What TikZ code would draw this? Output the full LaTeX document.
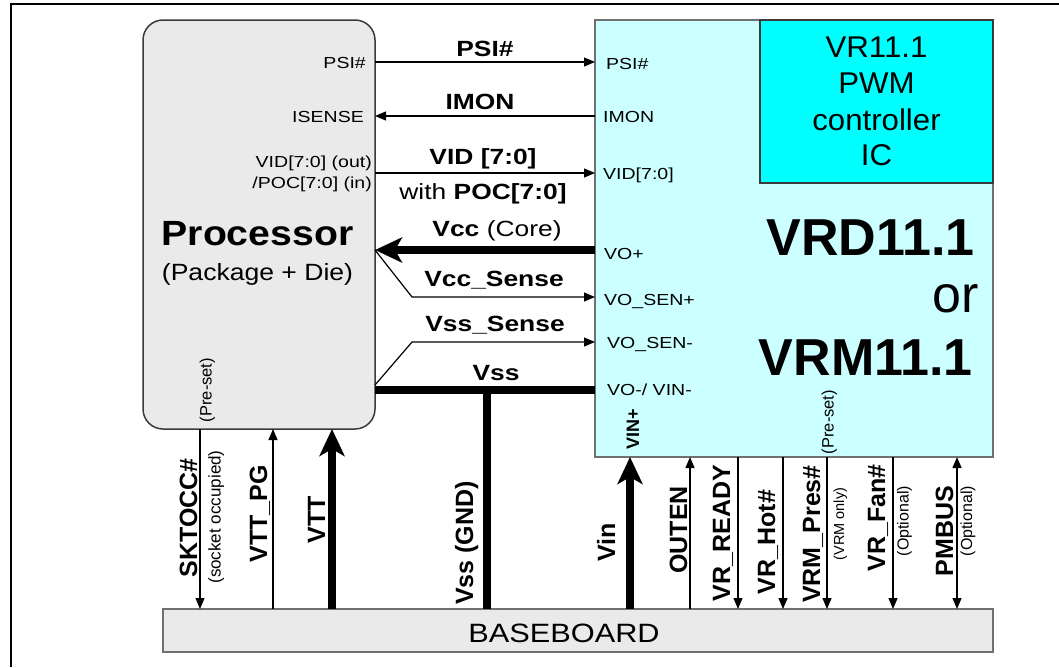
\documentclass[tikz,border=0pt]{standalone}
\usepackage{fontspec}
\setmainfont{Liberation Sans}
\usetikzlibrary{arrows.meta,calc}
\newcommand\wx[2]{\scalebox{#1}[1]{#2}}
\definecolor{procfill}{HTML}{EAEAEA}
\definecolor{vrdfill}{HTML}{CCFFFF}
\definecolor{pwmfill}{HTML}{00FFFF}
\definecolor{darkedge}{HTML}{3A3A3A}
\definecolor{grayedge}{HTML}{707070}
\begin{document}
\begin{tikzpicture}[x=1pt,y=-1pt,
  box/.style={line width=1.5pt, inner sep=0, outer sep=0},
  sl/.style={font=\fontsize{16}{18}\selectfont, inner sep=0},
  bl/.style={font=\bfseries\fontsize{22}{24}\selectfont, inner sep=0, anchor=base},
  vb/.style={font=\bfseries\fontsize{25}{27}\selectfont, inner sep=0, rotate=90, anchor=base},
  vs/.style={inner sep=0, rotate=90, anchor=base},
  thinw/.style={line width=1.2pt},
  tarr/.style={thinw, -{Triangle[length=11pt,width=9pt]}},
  thickw/.style={line width=8pt},
  barr/.style={thickw, -{Stealth[length=27pt,width=25pt,inset=7pt]}},
]
\useasboundingbox (0,0) rectangle (1059,667);
\draw[line width=2.5pt] (11,667) -- (11,4) -- (1059,4);

% boxes
\node[box, draw=darkedge, fill=procfill, rounded corners=20pt, minimum width=232pt, minimum height=409pt] (proc) at (259,224.5) {};
\node[box, draw=grayedge, fill=vrdfill, minimum width=398pt, minimum height=437pt] (vrd) at (794,238.5) {};
\node[box, draw=darkedge, fill=pwmfill, minimum width=233pt, minimum height=163pt] (pwm) at (876.5,101.5) {};
\node[box, draw=grayedge, fill=procfill, minimum width=830pt, minimum height=43pt] (base) at (578,630.5) {};

% coordinates
\coordinate (yPSI) at (0,62);
\coordinate (yIMON) at (0,116);
\coordinate (yVID) at (0,173);
\coordinate (yVcc) at (0,250);
\coordinate (yVccS) at (0,297);
\coordinate (yVssS0) at (0,385);
\coordinate (yVssS) at (0,342);
\coordinate (yVss) at (0,390);
\coordinate (kink) at (412,0);
\coordinate (xSK) at (200,0);
\coordinate (xPG) at (273,0);
\coordinate (xVTT) at (332,0);
\coordinate (xGND) at (487,0);
\coordinate (xVin) at (630,0);
\coordinate (xOUT) at (690,0);
\coordinate (xRDY) at (738,0);
\coordinate (xHot) at (783,0);
\coordinate (xPres) at (827,0);
\coordinate (xFan) at (893,0);
\coordinate (xPM) at (957,0);

% horizontal connectors
\draw[tarr] (proc.east |- yPSI) -- (vrd.west |- yPSI);
\draw[tarr] (vrd.west |- yIMON) -- (proc.east |- yIMON);
\draw[tarr] (proc.east |- yVID) -- (vrd.west |- yVID);
\draw[barr] (vrd.west |- yVcc) -- (proc.east |- yVcc);
\draw[tarr] (proc.east |- yVcc) -- (kink |- yVccS) -- (vrd.west |- yVccS);
\draw[tarr] (proc.east |- yVssS0) -- (kink |- yVssS) -- (vrd.west |- yVssS);
\draw[thickw] (proc.east |- yVss) -- (vrd.west |- yVss);
\draw[thickw] (xGND |- yVss) -- (xGND |- base.north);

% vertical connectors
\draw[tarr] (xSK |- proc.south) -- (xSK |- base.north);
\draw[tarr] (xPG |- base.north) -- (xPG |- proc.south);
\draw[barr] (xVTT |- base.north) -- (xVTT |- proc.south);
\draw[barr] (xVin |- base.north) -- (xVin |- vrd.south);
\draw[tarr] (xOUT |- base.north) -- (xOUT |- vrd.south);
\draw[tarr] (xRDY |- vrd.south) -- (xRDY |- base.north);
\draw[tarr] (xHot |- vrd.south) -- (xHot |- base.north);
\draw[tarr] (xPres |- vrd.south) -- (xPres |- base.north);
\draw[tarr] (xFan |- vrd.south) -- (xFan |- base.north);
\draw[thinw, {Triangle[length=11pt,width=9pt]}-{Triangle[length=11pt,width=9pt]}] (xPM |- vrd.south) -- (xPM |- base.north);

% processor pin labels
\node[sl, anchor=base east] (lpsi) at (366,68) {\wx{1.22}{PSI\#}};
\node[sl, anchor=base east] (lisense) at (364,122) {\wx{1.22}{ISENSE}};
\node[sl, anchor=base east] (lvid) at (372,167) {\wx{1.22}{VID[7:0] (out)}};
\node[sl, anchor=base east] (lpoc) at (372,188) {\wx{1.22}{/POC[7:0] (in)}};

% VR pin labels
\node[sl, anchor=base west] (rpsi) at (606,69) {\wx{1.22}{PSI\#}};
\node[sl, anchor=base west] (rimon) at (603,122) {\wx{1.22}{IMON}};
\node[sl, anchor=base west] (rvid) at (603,179) {\wx{1.22}{VID[7:0]}};
\node[sl, anchor=base west] (rvo) at (604,259) {\wx{1.22}{VO+}};
\node[sl, anchor=base west] (rsenp) at (604,305) {\wx{1.22}{VO\_SEN+}};
\node[sl, anchor=base west] (rsenm) at (607,348) {\wx{1.22}{VO\_SEN-}};
\node[sl, anchor=base west] (rvom) at (607,395) {\wx{1.22}{VO-/ VIN-}};

% signal labels
\node[bl] (tpsi) at (485,56) {\wx{1.2}{PSI\#}};
\node[bl] (timon) at (480,109) {\wx{1.2}{IMON}};
\node[bl] (tvid) at (483,164) {\wx{1.2}{VID [7:0]}};
\node[bl] (tpoc) at (483,199) {\wx{1.2}{\mdseries with \bfseries POC[7:0]}};
\node[bl] (tvcc) at (497,236) {\wx{1.2}{Vcc \mdseries (Core)}};
\node[bl] (tvccs) at (494,286) {\wx{1.2}{Vcc\_Sense}};
\node[bl] (tvsss) at (495,331) {\wx{1.2}{Vss\_Sense}};
\node[bl] (tvss) at (496,380) {\wx{1.2}{Vss}};

% box titles
\node[font=\bfseries\fontsize{35}{40}\selectfont, inner sep=0, anchor=base] (tproc) at (257.5,245) {\wx{1.12}{Processor}};
\node[font=\fontsize{23.5}{26}\selectfont, inner sep=0, anchor=base] (tpkg) at (257.5,280) {\wx{1.13}{(Package + Die)}};
\node[font=\fontsize{30}{34}\selectfont, inner sep=0, anchor=base] (tpwm1) at (876.5,57) {\wx{1.04}{VR11.1}};
\node[font=\fontsize{30}{34}\selectfont, inner sep=0, anchor=base] (tpwm2) at (876.5,93) {\wx{1.04}{PWM}};
\node[font=\fontsize{30}{34}\selectfont, inner sep=0, anchor=base] (tpwm3) at (876.5,130) {\wx{1.04}{controller}};
\node[font=\fontsize{30}{34}\selectfont, inner sep=0, anchor=base] (tpwm4) at (876.5,165) {\wx{1.04}{IC}};
\node[font=\bfseries\fontsize{52}{56}\selectfont, inner sep=0, anchor=base east] (tvrd) at (975,255) {VRD11.1};
\node[font=\fontsize{52}{56}\selectfont, inner sep=0, anchor=base east] (tor) at (979,312) {or};
\node[font=\bfseries\fontsize{52}{56}\selectfont, inner sep=0, anchor=base east] (tvrm) at (973,375) {VRM11.1};
\node[font=\fontsize{26.5}{30}\selectfont, inner sep=0, anchor=base] (tbase) at (564,642) {\wx{1.16}{BASEBOARD}};

% vertical labels
\node[vb] (vsk) at (197,518) {SKTOCC\#};
\node[vs, font=\fontsize{17}{19}\selectfont] (vsock) at (220.5,517) {(socket occupied)};
\node[vs, font=\fontsize{16.5}{18}\selectfont] (vpre1) at (211.5,390) {(Pre-set)};
\node[vb] (vpg) at (267,514) {VTT\_PG};
\node[vb] (vvtt) at (325,520) {VTT};
\node[vb] (vgnd) at (473,543) {Vss (GND)};
\node[vb] (vvin) at (615,542) {Vin};
\node[vs, font=\bfseries\fontsize{18}{20}\selectfont] (vinp) at (639,429) {VIN+};
\node[vb] (vout) at (687,530) {OUTEN};
\node[vb] (vrdy) at (730,533) {VR\_READY};
\node[vb] (vhot) at (775,542) {VR\_Hot\#};
\node[vb] (vpres) at (820,534) {VRM\_Pres\#};
\node[vs, font=\fontsize{14.5}{16}\selectfont] (vvrm) at (844,524) {(VRM only)};
\node[vs, font=\fontsize{16.5}{18}\selectfont] (vpre2) at (833.5,422) {(Pre-set)};
\node[vb] (vfan) at (885,518) {VR\_Fan\#};
\node[vs, font=\fontsize{16}{18}\selectfont] (vopt1) at (908.5,521) {(Optional)};
\node[vb] (vpm) at (953,531) {PMBUS};
\node[vs, font=\fontsize{16}{18}\selectfont] (vopt2) at (972,521) {(Optional)};
\end{tikzpicture}
\end{document}
